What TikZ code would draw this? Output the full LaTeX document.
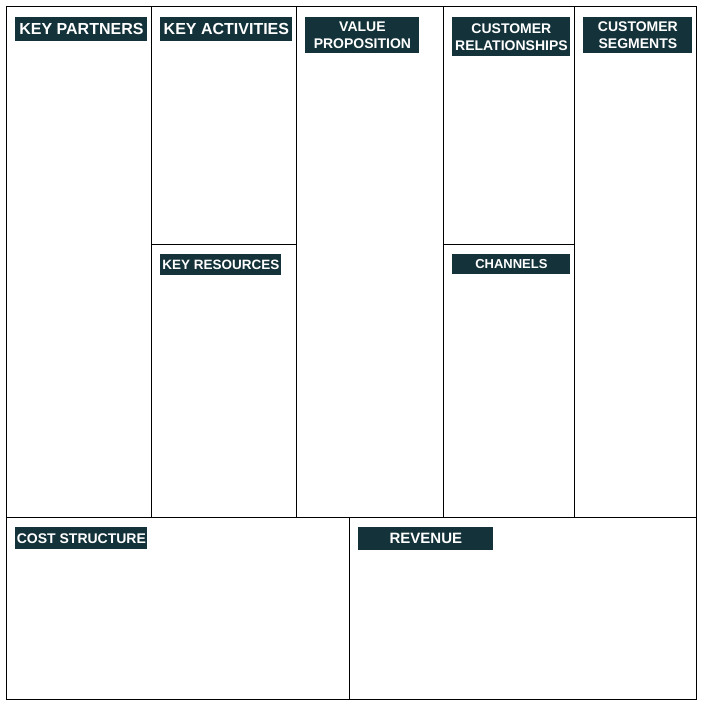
\documentclass[tikz,border=0pt]{standalone}
\usepackage{fontspec}
\setmainfont{Liberation Sans}
\definecolor{canvasdark}{HTML}{14323A}
\tikzset{
  tag/.style={fill=canvasdark, text=white, anchor=north west, inner sep=0pt, align=center},
  bigtag/.style={tag, font=\fontsize{16}{17}\selectfont\bfseries},
  smalltag/.style={tag, font=\fontsize{14}{17}\selectfont\bfseries},
}

\begin{document}
\begin{tikzpicture}[x=1pt,y=-1pt,line width=0.8pt]
\useasboundingbox (0,0) rectangle (707,708);
% canvas grid
\draw[line width=1pt] (6,7) rectangle (696,699);
\foreach \x in {151,296,443,574} {
  \draw (\x,7)--(\x,517);
}
\draw (6,517)--(696,517);
\draw (151,244)--(296,244);
\draw (443,244)--(574,244);
\draw (349,517)--(349,699);
% block titles
\node[bigtag, minimum width=132, minimum height=24] (partners) at (15,17) {KEY PARTNERS};
\node[bigtag, minimum width=132, minimum height=24] (activities) at (160,17) {KEY ACTIVITIES};
\node[smalltag, minimum width=114, minimum height=36] (value) at (305,17) {VALUE\\PROPOSITION};
\node[smalltag, minimum width=118, minimum height=39] (relations) at (452,17) {CUSTOMER\\RELATIONSHIPS};
\node[smalltag, minimum width=109, minimum height=36] (segments) at (583,17) {CUSTOMER\\SEGMENTS};
\node[smalltag, minimum width=121, minimum height=21, font=\fontsize{13.5}{15}\selectfont\bfseries] (resources) at (160,254) {KEY RESOURCES};
\node[smalltag, minimum width=118, minimum height=20, font=\fontsize{13}{15}\selectfont\bfseries] (channels) at (452,254) {CHANNELS};
\node[smalltag, minimum width=132, minimum height=22] (cost) at (15,527) {COST STRUCTURE};
\node[smalltag, minimum width=135, minimum height=23, font=\fontsize{15}{16}\selectfont\bfseries] (revenue) at (358,527) {REVENUE};
\end{tikzpicture}
\end{document}
